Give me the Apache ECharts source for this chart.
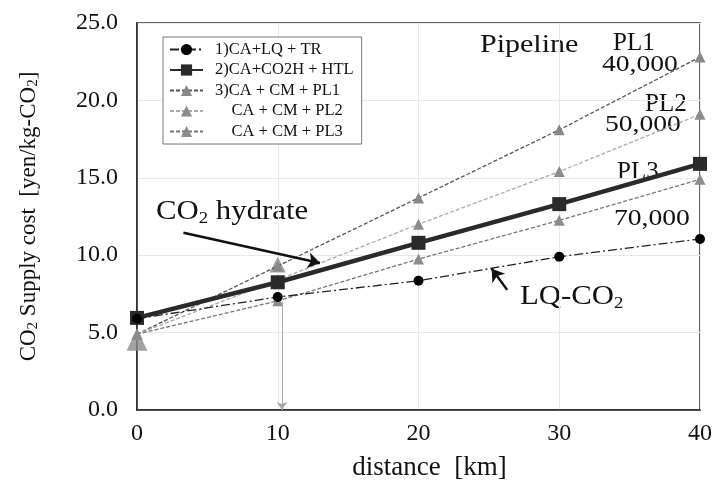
<!DOCTYPE html>
<html>
<head>
<meta charset="utf-8">
<script src="https://cdn.jsdelivr.net/npm/echarts@6/dist/echarts.min.js"></script>
<style>
  html, body { margin: 0; padding: 0; background: #fff; }
  #chart { width: 716px; height: 486px; }
</style>
</head>
<body>
<div id="chart"></div>
<script>
// data
var distances = [0, 10, 20, 30, 40];
var lqCost = [5.9, 7.3, 8.35, 9.9, 11.05];
var hydrateCost = [5.95, 8.25, 10.8, 13.3, 15.9];
var pl1Cost = [4.9, 9.3, 13.7, 18.1, 22.8];
var pl2Cost = [4.9, 8.4, 12.0, 15.4, 19.1];
var pl3Cost = [4.9, 7.05, 9.75, 12.25, 14.9];
// the two big grey triangles
var bigMarkX = [0, 10];
var bigMarkY = [4.5, 9.4];
var seriesNames = ['1)CA+LQ + TR', '2)CA+CO2H + HTL', '3)CA + CM + PL1', '    CA + CM + PL2', '    CA + CM + PL3'];

function pairs(xs, ys) {
  return xs.map(function (x, i) { return [x, ys[i]]; });
}

var FONT = 'Liberation Serif';
var myChart = echarts.init(document.getElementById('chart'));

// plain text label, stretched a bit like the original figure
function label(text, left, top, size, sx) {
  return {
    type: 'text', left: left, top: top, scaleX: sx || 1,
    style: { text: text, font: size + 'px ' + FONT, fill: '#111' }
  };
}
// text with a subscript 2 at the end of "CO"
function subLabel(text, left, top, size, sx) {
  return {
    type: 'text', left: left, top: top, scaleX: sx || 1,
    style: {
      text: text,
      rich: {
        n: { font: size + 'px ' + FONT, fill: '#111' },
        s: { font: Math.round(size * 0.62) + 'px ' + FONT, fill: '#111', padding: [Math.round(size * 0.45), 0, 0, 0] }
      }
    }
  };
}

var dashed = [4, 2];
var option = {
  animation: false,
  grid: {
    left: 137, right: 16, top: 23, bottom: 76,
    show: true, borderColor: '#333', borderWidth: 1.5
  },
  legend: {
    orient: 'vertical',
    left: 163, top: 37,
    data: seriesNames,
    backgroundColor: '#fff',
    borderColor: '#777', borderWidth: 1,
    padding: [4, 8, 4, 6],
    itemWidth: 33, itemHeight: 14, itemGap: 3.5,
    textStyle: { fontFamily: FONT, fontSize: 16.5, lineHeight: 17, color: '#111', padding: [0, 0, 0, 7] }
  },
  xAxis: {
    type: 'value', min: 0, max: 40, interval: 10,
    name: 'distance  [km]', nameLocation: 'middle', nameGap: 44,
    nameTextStyle: { fontFamily: FONT, fontSize: 27, color: '#111', padding: [0, 0, 0, 22] },
    axisLine: { lineStyle: { color: '#222', width: 1.5 } },
    axisTick: { show: false },
    axisLabel: { fontFamily: FONT, fontSize: 24, color: '#111', margin: 12 },
    splitLine: { lineStyle: { color: '#e8e8e8' } }
  },
  yAxis: {
    type: 'value', min: 0, max: 25, interval: 5,
    name: '{n|CO}{s|2}{n| Supply cost  [yen/kg-CO}{s|2}{n|]}',
    nameLocation: 'middle', nameGap: 96, nameRotate: 90,
    nameTextStyle: {
      rich: {
        n: { fontFamily: FONT, fontSize: 23, color: '#111' },
        s: { fontFamily: FONT, fontSize: 15, color: '#111', padding: [9, 0, 0, 0] }
      }
    },
    axisLine: { show: true, lineStyle: { color: '#222', width: 1.5 } },
    axisTick: { show: false },
    axisLabel: {
      fontFamily: FONT, fontSize: 24, color: '#111', margin: 19,
      formatter: function (v) { return v.toFixed(1); }
    },
    splitLine: { lineStyle: { color: '#e8e8e8' } }
  },
  series: [
    {
      name: seriesNames[0], type: 'line', data: pairs(distances, lqCost), z: 5,
      symbol: 'circle', symbolSize: 10,
      itemStyle: { color: '#000' },
      lineStyle: { color: '#222', width: 1.3, type: [9, 3, 2, 3] }
    },
    {
      name: seriesNames[1], type: 'line', data: pairs(distances, hydrateCost), z: 4,
      symbol: 'rect', symbolSize: 14,
      itemStyle: { color: '#2a2a2a' },
      lineStyle: { color: '#2a2a2a', width: 4.5 },
      markLine: {
        silent: true, symbol: ['none', 'arrow'], symbolSize: 12,
        label: { show: false },
        data: [
          [{ coord: [3.3, 11.45], lineStyle: { color: '#111', width: 2.5, type: 'solid' } },
           { coord: [13.0, 9.5] }],
          [{ coord: [26.3, 7.76], lineStyle: { color: '#111', width: 2.5, type: 'solid' } },
           { coord: [25.2, 9.12] }],
          [{ coord: [10.3, 7.0], symbolSize: 8, lineStyle: { color: '#aaa', width: 1, type: 'solid' } },
           { coord: [10.3, 0], symbolSize: 8 }]
        ]
      }
    },
    {
      name: seriesNames[2], type: 'line', data: pairs(distances, pl1Cost), z: 3,
      symbol: 'triangle', symbolSize: 11,
      itemStyle: { color: '#888' },
      lineStyle: { color: '#555', width: 1.3, type: dashed }
    },
    {
      name: seriesNames[3], type: 'line', data: pairs(distances, pl2Cost), z: 3,
      symbol: 'triangle', symbolSize: 11,
      itemStyle: { color: '#8c8c8c' },
      lineStyle: { color: '#aaa', width: 1.3, type: dashed }
    },
    {
      name: seriesNames[4], type: 'line', data: pairs(distances, pl3Cost), z: 3,
      symbol: 'triangle', symbolSize: 11,
      itemStyle: { color: '#8c8c8c' },
      lineStyle: { color: '#777', width: 1.3, type: dashed }
    },
    {
      name: 'marks', type: 'scatter', data: pairs(bigMarkX, bigMarkY), z: 2,
      symbol: 'triangle',
      symbolSize: function (v) { return v[0] === 0 ? 21 : 16; },
      itemStyle: { color: '#8c8c8c' }
    }
  ],
  graphic: [
    label('Pipeline', 480, 33, 25, 1.2),
    label('PL1', 613, 31, 25),
    label('40,000', 602, 53, 24, 1.15),
    label('PL2', 645, 92, 25),
    label('50,000', 605, 113, 24, 1.15),
    label('PL3', 617, 160, 25),
    label('70,000', 614, 207, 24, 1.15),
    subLabel('{n|CO}{s|2}{n| hydrate}', 156, 198, 28, 1.1),
    subLabel('{n|LQ-CO}{s|2}', 520, 283, 28, 1.1)
  ]
};
myChart.setOption(option);
</script>
</body>
</html>
